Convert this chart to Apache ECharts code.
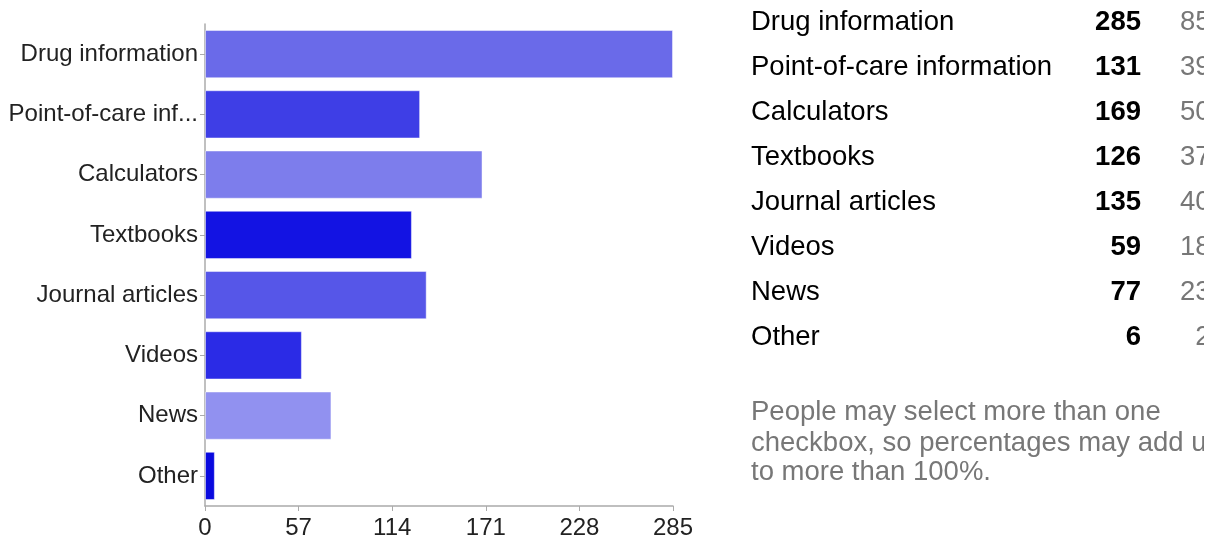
<!DOCTYPE html>
<html><head><meta charset="utf-8">
<script src="https://cdn.jsdelivr.net/npm/echarts@6/dist/echarts.min.js"></script>
<style>html,body{margin:0;padding:0;background:#fff;} #c{width:1204px;height:540px;}</style>
</head><body><div id="c"></div>
<script>
const categories = ['Drug information','Point-of-care information','Calculators','Textbooks','Journal articles','Videos','News','Other'];
const tickLabels = ['Drug information','Point-of-care inf...','Calculators','Textbooks','Journal articles','Videos','News','Other'];
const counts = [285,131,169,126,135,59,77,6];
const percents = [85,39,50,37,40,18,23,2];
const barColors = ['#6a6ae9','#3e3ee6','#7d7dec','#1313e3','#5656e8','#2b2be6','#9191f0','#0909df'];
const xTickMin = 0, xTickMax = 285, xTickStep = 57;
const noteLines = ['People may select more than one','checkbox, so percentages may add up','to more than 100%.'];

const FONT = '"Liberation Sans", Arial, Helvetica, sans-serif';
const chart = echarts.init(document.getElementById('c'), null, {renderer:'canvas'});

const graphics = [];
categories.forEach((c, i) => {
  const y = 22 + 45 * i;
  graphics.push({type:'text', x:751, y:y, style:{text:c, fontSize:27.5, fontFamily:FONT, fill:'#000', align:'left', verticalAlign:'middle'}});
  graphics.push({type:'text', x:1141, y:y, style:{text:String(counts[i]), fontSize:27.5, fontFamily:FONT, fontWeight:'bold', fill:'#000', align:'right', verticalAlign:'middle'}});
  graphics.push({type:'text', x:1235, y:y, style:{text:percents[i] + '%', fontSize:27.5, fontFamily:FONT, fill:'#777', align:'right', verticalAlign:'middle'}});
});
noteLines.forEach((t, i) => {
  graphics.push({type:'text', x:751, y:[412,443,472][i], style:{text:t, fontSize:27.5, fontFamily:FONT, fill:'#777', align:'left', verticalAlign:'middle'}});
});

chart.setOption({
  animation:false,
  backgroundColor:'#fff',
  textStyle:{fontFamily:FONT},
  grid:{left:205, top:24, width:468, height:482, containLabel:false},
  xAxis:{
    type:'value', min:xTickMin, max:xTickMax, interval:xTickStep,
    axisLine:{show:true, lineStyle:{color:'#ababab', width:1.5}},
    axisTick:{show:true, length:5, lineStyle:{color:'#ababab'}},
    splitLine:{show:false},
    axisLabel:{color:'#222', fontSize:24, fontFamily:FONT, margin:10}
  },
  yAxis:{
    type:'category', inverse:true, data:categories,
    axisLine:{show:true, lineStyle:{color:'#ababab', width:1.5}},
    axisTick:{show:true, alignWithLabel:true, length:5, lineStyle:{color:'#ababab'}},
    axisLabel:{color:'#222', fontSize:24, fontFamily:FONT, margin:7,
      formatter:(v, idx) => tickLabels[categories.indexOf(v)]}
  },
  series:[{
    type:'bar', barCategoryGap:'20%',
    data:counts.map((v, i) => ({value:v, itemStyle:{color:barColors[i], borderColor:'rgba(255,255,255,0.45)', borderWidth:1}}))
  }],
  graphic:graphics
});
</script></body></html>
